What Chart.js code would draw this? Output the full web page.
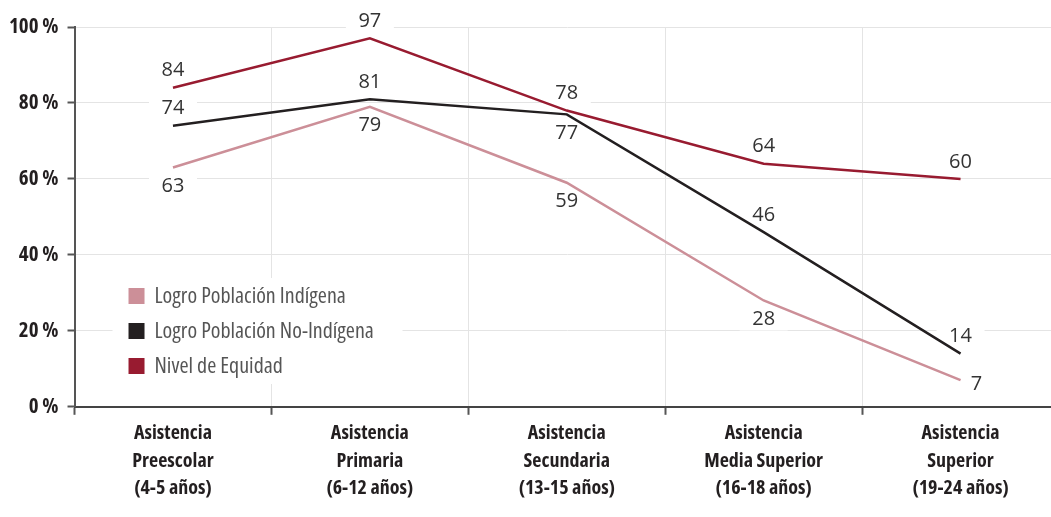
<!DOCTYPE html>
<html>
<head>
<meta charset="utf-8">
<script src="https://cdn.jsdelivr.net/npm/chart.js@4.4.1/dist/chart.umd.min.js"></script>
<style>
  html, body { margin: 0; padding: 0; background: #fff; overflow: hidden; }
  #wrap { width: 1059px; height: 517px; }
</style>
</head>
<body>
<div id="wrap"><canvas id="equidadChart"></canvas></div>
<script>
// Data
const categories = [
  ["Asistencia", "Preescolar", "(4-5 años)"],
  ["Asistencia", "Primaria", "(6-12 años)"],
  ["Asistencia", "Secundaria", "(13-15 años)"],
  ["Asistencia", "Media Superior", "(16-18 años)"],
  ["Asistencia", "Superior", "(19-24 años)"]
];
const seriesNames = ["Logro Población Indígena", "Logro Población No-Indígena", "Nivel de Equidad"];
const indigena = [63, 79, 59, 28, 7];
const noIndigena = [74, 81, 77, 46, 14];
const equidad = [84, 97, 78, 64, 60];
const yTicks = [0, 20, 40, 60, 80, 100];

// where each value label sits relative to its point
const labelSides = [
  ["below", "below", "below", "below", "right"],
  ["above", "above", "below", "above", "above"],
  ["above", "above", "above", "above", "above"]
];

const colors = ["#cc8f98", "#231f20", "#981b30"];
// Open Sans is a variable font, so the condensed width works in canvas
const cond = '"Open Sans", sans-serif';

// value labels with a white box that hides the gridlines behind them
const valueLabels = {
  id: "valueLabels",
  beforeDatasetsDraw(chart) {
    const ctx = chart.ctx;
    ctx.save();
    ctx.font = '20px "Open Sans", sans-serif';
    ctx.textAlign = "center";
    ctx.textBaseline = "middle";
    chart.data.datasets.forEach((ds, i) => {
      const meta = chart.getDatasetMeta(i);
      meta.data.forEach((pt, j) => {
        const side = labelSides[i][j];
        let x = pt.x, y = pt.y;
        if (side === "above") y -= 17;
        else if (side === "below") y += 19;
        else { x += 16; y += 4; }
        ctx.fillStyle = "#fff";
        ctx.fillRect(x - 24, y - 11, 48, 22);
        ctx.fillStyle = "#333";
        ctx.fillText(String(ds.data[j]), x, y);
      });
    });
    ctx.restore();
  }
};

// legend drawn inside the plot area
const innerLegend = {
  id: "innerLegend",
  beforeDatasetsDraw(chart) {
    const ctx = chart.ctx;
    const area = chart.chartArea;
    const x0 = area.left + 54;
    const y0 = area.top + 269;
    ctx.save();
    ctx.fillStyle = "#fff";
    ctx.fillRect(x0 - 16, y0 - 18, 290, 106);
    ctx.font = "normal condensed 22px " + cond;
    ctx.textBaseline = "middle";
    ctx.textAlign = "left";
    chart.data.datasets.forEach((ds, i) => {
      const y = y0 + i * 35;
      ctx.fillStyle = ds.borderColor;
      ctx.fillRect(x0, y - 8, 16, 16);
      ctx.fillStyle = "#555";
      ctx.fillText(ds.label, x0 + 26, y + 1);
    });
    ctx.restore();
  }
};

document.addEventListener("DOMContentLoaded", function () {
  const ctx = document.getElementById("equidadChart").getContext("2d");
  const seriesData = [indigena, noIndigena, equidad];
  new Chart(ctx, {
    type: "line",
    data: {
      labels: categories,
      datasets: seriesData.map((d, i) => ({
        label: seriesNames[i],
        data: d,
        borderColor: colors[i],
        backgroundColor: colors[i],
        borderWidth: 2.5,
        pointRadius: 0,
        tension: 0,
        fill: false
      }))
    },
    options: {
      responsive: true,
      maintainAspectRatio: false,
      animation: false,
      layout: { padding: { top: 27, right: 0, bottom: 10, left: 0 } },
      plugins: {
        legend: { display: false },
        tooltip: { enabled: false }
      },
      scales: {
        x: {
          offset: true,
          grid: {
            offset: true,
            color: "#e4e4e4",
            lineWidth: 1,
            tickLength: 8,
            tickColor: "#555",
            tickWidth: 2
          },
          border: { color: "#444", width: 2 },
          ticks: {
            color: "#231f20",
            font: { family: cond, size: 20, weight: "bold condensed", lineHeight: 1.37 },
            padding: 5,
            maxRotation: 0,
            autoSkip: false
          }
        },
        y: {
          min: 0,
          max: 100,
          afterBuildTicks(axis) {
            axis.ticks = yTicks.map(v => ({ value: v }));
          },
          grid: {
            color: "#e4e4e4",
            lineWidth: 1,
            tickLength: 7,
            tickColor: "#555",
            tickWidth: 2
          },
          border: { color: "#555", width: 2 },
          ticks: {
            color: "#231f20",
            font: { family: cond, size: 21, weight: "bold condensed" },
            padding: 9,
            callback: v => v + " %"
          }
        }
      }
    },
    plugins: [valueLabels, innerLegend]
  });
});
</script>
</body>
</html>
